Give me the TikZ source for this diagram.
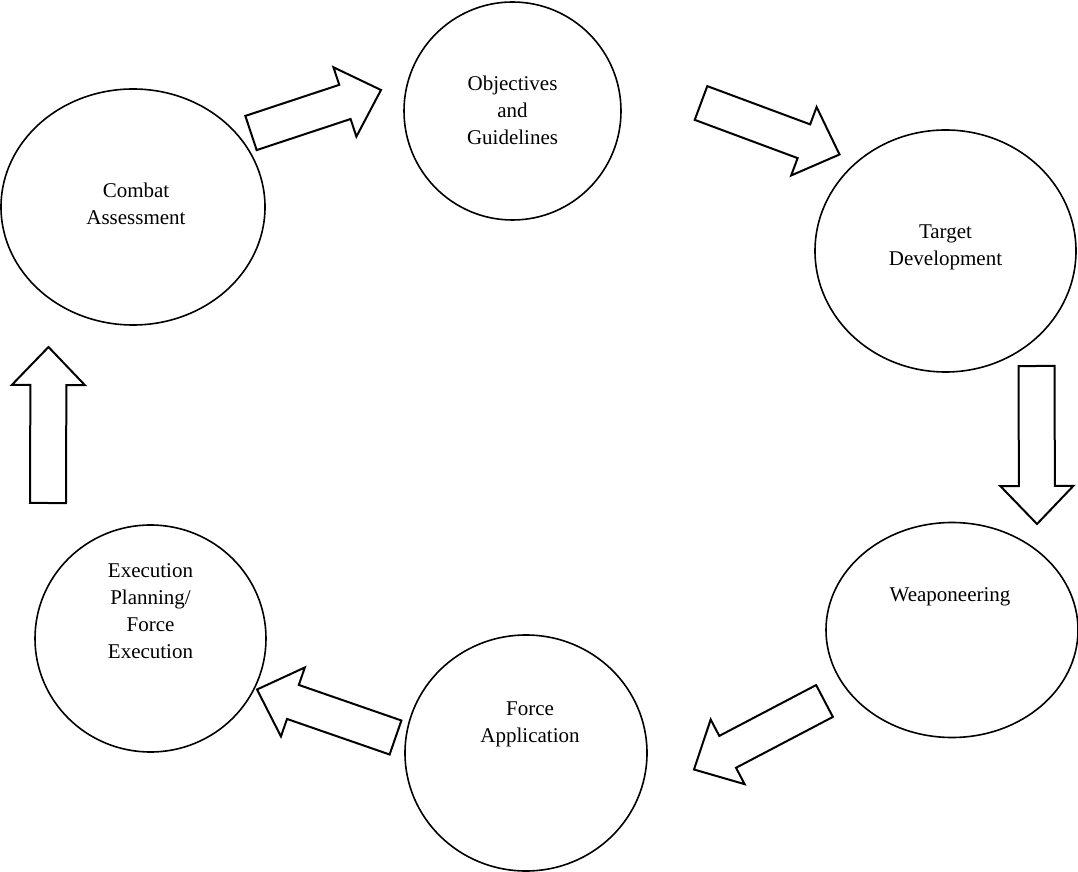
\documentclass[tikz,border=0pt]{standalone}
\usepackage{fontspec}
\setmainfont{Liberation Serif}
\usepackage{tikz}
\usetikzlibrary{shapes.geometric,calc,positioning}
\newcommand{\shafthalf}{18pt}
\newcommand{\headhalf}{36.5pt}
\newcommand{\headlen}{38pt}
% hollow block arrow from tail #1 to tip #2
\newcommand{\blockarrow}[2]{%
  \coordinate (#2-base) at ($(#2)!\headlen!(#1)$);
  \draw[blockline] ($(#1)!\shafthalf!90:(#2)$)
    -- ($(#2-base)!\shafthalf!90:(#2)$)
    -- ($(#2-base)!\headhalf!90:(#2)$)
    -- (#2)
    -- ($(#2-base)!\headhalf!-90:(#2)$)
    -- ($(#2-base)!\shafthalf!-90:(#2)$)
    -- ($(#1)!\shafthalf!-90:(#2)$) -- cycle;}

\begin{document}
\begin{tikzpicture}[x=1pt, y=1pt,
    phase/.style={ellipse, draw, line width=1.6pt, inner sep=0pt},
    phasetext/.style={align=center, inner sep=0pt,
        font=\fontsize{21}{27}\selectfont},
    blockline/.style={line width=2pt, line join=miter}
]
\useasboundingbox (0,0) rectangle (1078,871);
% the six phases
\node[phase, minimum width=217pt, minimum height=218pt] (obj) at (512.5,760) {};
\node[phase, minimum width=261pt, minimum height=242pt] (tgt) at (945.5,620) {};
\node[phase, minimum width=252pt, minimum height=215pt] (weap) at (952,241) {};
\node[phase, minimum width=242pt, minimum height=236pt] (force) at (526,118) {};
\node[phase, minimum width=231pt, minimum height=227pt] (exec) at (150.5,232.5) {};
\node[phase, minimum width=264pt, minimum height=236pt] (assess) at (133,664) {};
\node[phasetext] (objtxt) at ([yshift=1pt]obj.center) {Objectives\\and\\Guidelines};
\node[phasetext] (tgttxt) at ([yshift=4pt]tgt.center) {Target\\Development};
\node[phasetext] (weaptxt) at ([xshift=-2pt, yshift=33pt]weap.center) {Weaponeering};
\node[phasetext] (forcetxt) at ([xshift=4pt, yshift=29pt]force.center) {Force\\Application};
\node[phasetext] (exectxt) at ([yshift=27pt]exec.center) {Execution\\Planning/\\Force\\Execution};
\node[phasetext] (assesstxt) at ([xshift=3pt, yshift=3pt]assess.center) {Combat\\Assessment};
% block arrows between phases
\coordinate (a1-tail) at (251,738);    \coordinate (a1-tip) at (381,781);
\coordinate (a2-tail) at (701,768);    \coordinate (a2-tip) at (839.5,716.5);
\coordinate (a3-tail) at (1036.5,505); \coordinate (a3-tip) at (1037,347);
\coordinate (a4-tail) at (824.5,170);  \coordinate (a4-tip) at (694,101.5);
\coordinate (a5-tail) at (395.5,133.5);\coordinate (a5-tip) at (257,181.5);
\coordinate (a6-tail) at (48,368);     \coordinate (a6-tip) at (48.5,524);
\blockarrow{a1-tail}{a1-tip}
\blockarrow{a2-tail}{a2-tip}
\blockarrow{a3-tail}{a3-tip}
\blockarrow{a4-tail}{a4-tip}
\blockarrow{a5-tail}{a5-tip}
\blockarrow{a6-tail}{a6-tip}
\end{tikzpicture}
\end{document}
